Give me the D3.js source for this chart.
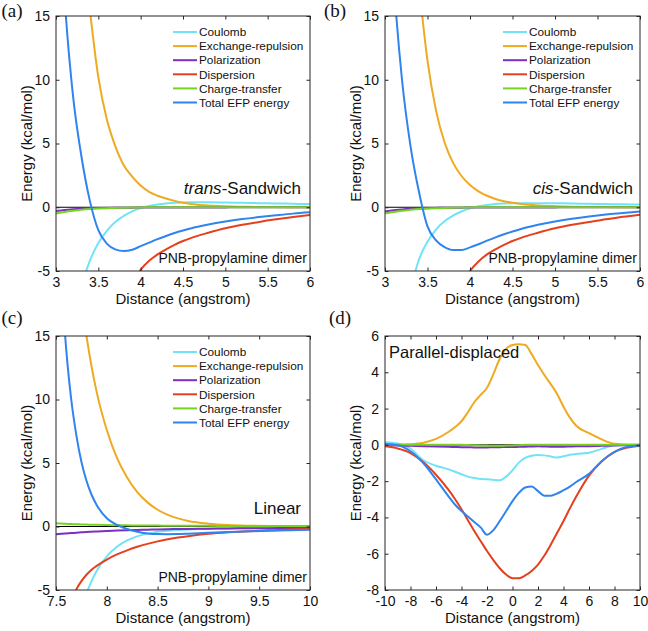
<!DOCTYPE html>
<html>
<head>
<meta charset="utf-8">
<script src="https://cdn.jsdelivr.net/npm/d3@7"></script>
<style>
  body { margin: 0; background: #fff; }
  text { font-family: "Liberation Sans", Arial, Helvetica, sans-serif; fill: #111; }
</style>
</head>
<body>
<script>
// series names + colours (same order in every panel)
const seriesNames = ['Coulomb', 'Exchange-repulsion', 'Polarization', 'Dispersion', 'Charge-transfer', 'Total EFP energy'];
const seriesColors = ['#70e4f7', '#eeaa22', '#7a30c0', '#e5401e', '#76d31f', '#2f84ee'];

// (a) trans-Sandwich
const distA = [3.0, 3.1, 3.2, 3.3, 3.4, 3.5, 3.6, 3.7, 3.8, 3.9, 4.0, 4.1, 4.2, 4.3, 4.4, 4.5, 4.6, 4.8, 5.0, 5.2, 5.4, 5.6, 5.8, 6.0];
const coulombA = [-20, -13, -9, -6.2, -4.2, -2.8, -1.85, -1.15, -0.68, -0.32, -0.07, 0.1, 0.22, 0.3, 0.35, 0.38, 0.39, 0.39, 0.37, 0.35, 0.32, 0.3, 0.27, 0.25];
const exchA = [60, 42, 30, 22, 15.5, 10.2, 6.9, 4.8, 3.3, 2.4, 1.7, 1.2, 0.9, 0.68, 0.5, 0.36, 0.26, 0.13, 0.07, 0.04, 0.02, 0.01, 0, 0];
const polA = [-0.3, -0.22, -0.16, -0.11, -0.08, -0.06, -0.05, -0.04, -0.03, -0.03, -0.02, -0.02, -0.02, -0.01, -0.01, -0.01, -0.01, -0.01, -0.01, 0, 0, 0, 0, 0];
const dispA = [-40, -30, -25, -19, -15, -12, -10, -8.5, -7.2, -6.0, -4.9, -4.2, -3.7, -3.3, -2.95, -2.65, -2.4, -2.0, -1.65, -1.38, -1.15, -0.95, -0.77, -0.6];
const ctA = [-0.5, -0.38, -0.28, -0.2, -0.14, -0.1, -0.07, -0.05, -0.03, -0.02, -0.01, 0, 0, 0, 0, 0, 0, 0, 0, 0, 0, 0, 0, 0];
const totalA = [28, 16.5, 8.8, 4.0, 0.5, -1.8, -2.85, -3.3, -3.43, -3.33, -3.05, -2.78, -2.5, -2.25, -2.02, -1.82, -1.64, -1.35, -1.12, -0.93, -0.77, -0.63, -0.5, -0.4];

// (b) cis-Sandwich
const distB = distA;
const coulombB = [-22, -14, -9.5, -6.5, -4.1, -2.7, -1.75, -1.1, -0.65, -0.33, -0.08, 0.08, 0.18, 0.25, 0.29, 0.31, 0.32, 0.32, 0.31, 0.29, 0.27, 0.25, 0.23, 0.21];
const exchB = [70, 48, 34, 25, 17.5, 11.5, 7.6, 5.1, 3.5, 2.45, 1.75, 1.25, 0.9, 0.65, 0.47, 0.35, 0.26, 0.14, 0.08, 0.04, 0.02, 0.01, 0, 0];
const polB = [-0.32, -0.24, -0.17, -0.12, -0.09, -0.07, -0.05, -0.04, -0.03, -0.03, -0.02, -0.02, -0.02, -0.01, -0.01, -0.01, -0.01, -0.01, -0.01, 0, 0, 0, 0, 0];
const dispB = [-40, -30, -25, -19, -15, -12, -10, -8.5, -7.3, -6.1, -5.0, -4.25, -3.7, -3.3, -2.95, -2.65, -2.4, -2.0, -1.65, -1.38, -1.15, -0.95, -0.75, -0.58];
const ctB = [-0.48, -0.37, -0.27, -0.2, -0.14, -0.1, -0.07, -0.05, -0.03, -0.02, -0.01, 0, 0, 0, 0, 0, 0, 0, 0, 0, 0, 0, 0, 0];
const totalB = [30, 18, 10, 4.8, 1.2, -1.5, -2.6, -3.12, -3.35, -3.35, -3.15, -2.9, -2.62, -2.36, -2.12, -1.9, -1.7, -1.38, -1.12, -0.9, -0.72, -0.57, -0.45, -0.33];

// (c) Linear
const distC = [7.5, 7.55, 7.6, 7.65, 7.7, 7.75, 7.8, 7.85, 7.9, 8.0, 8.1, 8.2, 8.3, 8.4, 8.5, 8.6, 8.7, 8.8, 9.0, 9.2, 9.4, 9.6, 9.8, 10.0];
const coulombC = [-25, -19, -14.5, -11, -8.5, -6.6, -5.3, -4.3, -3.5, -2.35, -1.6, -1.1, -0.78, -0.56, -0.42, -0.33, -0.27, -0.23, -0.18, -0.15, -0.13, -0.12, -0.11, -0.1];
const exchC = [45, 38, 32, 26, 21, 17.8, 15, 12.6, 10.6, 7.6, 5.4, 3.85, 2.7, 1.9, 1.32, 0.92, 0.64, 0.44, 0.22, 0.11, 0.06, 0.03, 0.02, 0.01];
const polC = [-0.62, -0.58, -0.55, -0.52, -0.49, -0.46, -0.43, -0.41, -0.39, -0.35, -0.32, -0.29, -0.27, -0.25, -0.23, -0.21, -0.2, -0.19, -0.17, -0.15, -0.14, -0.13, -0.12, -0.11];
const dispC = [-9, -7.8, -6.8, -5.8, -4.95, -4.3, -3.8, -3.4, -3.1, -2.6, -2.2, -1.88, -1.6, -1.37, -1.17, -1.0, -0.87, -0.76, -0.58, -0.46, -0.37, -0.3, -0.24, -0.2];
const ctC = [0.25, 0.23, 0.21, 0.19, 0.18, 0.16, 0.15, 0.14, 0.13, 0.11, 0.1, 0.09, 0.08, 0.07, 0.07, 0.06, 0.06, 0.05, 0.05, 0.04, 0.04, 0.04, 0.03, 0.03];
const totalC = [30, 20, 14, 10, 7.2, 5.1, 3.6, 2.5, 1.7, 0.65, 0.12, -0.2, -0.42, -0.55, -0.6, -0.61, -0.6, -0.57, -0.5, -0.44, -0.38, -0.33, -0.29, -0.25];

// (d) Parallel-displaced
const distD = [-10, -9, -8, -7, -6, -5, -4.5, -4, -3.5, -3, -2.5, -2, -1.5, -1, -0.5, 0, 0.5, 1, 1.5, 2, 2.5, 3, 3.5, 4, 4.5, 5, 6, 7, 8, 9, 10];
const coulombD = [0.15, 0.08, -0.2, -0.85, -1.15, -1.35, -1.48, -1.62, -1.75, -1.83, -1.88, -1.9, -1.93, -1.95, -1.75, -1.4, -0.98, -0.72, -0.6, -0.56, -0.58, -0.64, -0.7, -0.63, -0.55, -0.5, -0.44, -0.22, -0.02, 0, 0];
const exchD = [0, 0, 0.03, 0.12, 0.33, 0.72, 0.98, 1.3, 1.8, 2.35, 2.75, 3.15, 3.9, 4.75, 5.3, 5.5, 5.55, 5.5, 5.0, 4.4, 3.85, 3.35, 2.8, 2.1, 1.5, 1.05, 0.65, 0.3, 0.06, 0.01, 0];
const polD = [-0.02, -0.03, -0.05, -0.07, -0.09, -0.11, -0.12, -0.13, -0.13, -0.14, -0.14, -0.14, -0.13, -0.13, -0.12, -0.12, -0.11, -0.1, -0.09, -0.08, -0.09, -0.1, -0.1, -0.1, -0.09, -0.08, -0.07, -0.05, -0.03, -0.02, -0.01];
const dispD = [-0.08, -0.2, -0.45, -0.95, -1.65, -2.5, -3.0, -3.55, -4.15, -4.75, -5.3, -5.85, -6.35, -6.8, -7.15, -7.35, -7.35, -7.2, -6.95, -6.6, -6.1, -5.5, -4.85, -4.2, -3.5, -2.85, -1.7, -0.9, -0.4, -0.15, -0.06];
const ctD = [0.03, 0.02, 0.01, 0.01, 0.01, 0, 0, 0, -0.01, -0.02, -0.03, -0.04, -0.05, -0.05, -0.04, -0.03, -0.02, 0, 0.01, 0.01, 0.01, 0, 0, 0, 0, 0, 0, 0, 0, 0, 0];
const totalD = [0.05, -0.02, -0.35, -1.0, -1.9, -2.85, -3.3, -3.65, -3.95, -4.25, -4.55, -4.95, -4.7, -4.2, -3.65, -3.1, -2.65, -2.35, -2.3, -2.55, -2.8, -2.8, -2.68, -2.5, -2.3, -2.05, -1.6, -0.9, -0.38, -0.1, -0.03];

// axis ticks
const ticksXA = [3, 3.5, 4, 4.5, 5, 5.5, 6];
const ticksXC = [7.5, 8, 8.5, 9, 9.5, 10];
const ticksXD = [-10, -8, -6, -4, -2, 0, 2, 4, 6, 8, 10];
const ticksYABC = [-5, 0, 5, 10, 15];
const ticksYD = [-8, -6, -4, -2, 0, 2, 4, 6];

const W = 648, H = 631;
const svg = d3.select('body').append('svg').attr('width', W).attr('height', H);
const defs = svg.append('defs');

const panels = [
  { id: 'a', tag: '(a)', tagX: 1.5, tagY: 17, left: 56, right: 310, top: 16, bottom: 271,
    xDomain: [3, 6], yDomain: [-5, 15], xTicks: ticksXA, yTicks: ticksYABC, dist: distA,
    series: [coulombA, exchA, polA, dispA, ctA, totalA], legend: true,
    title: ['trans', '-Sandwich'], titleDx: -9, dimer: true },
  { id: 'b', tag: '(b)', tagX: 324, tagY: 17, left: 385, right: 640, top: 16, bottom: 271,
    xDomain: [3, 6], yDomain: [-5, 15], xTicks: ticksXA, yTicks: ticksYABC, dist: distB,
    series: [coulombB, exchB, polB, dispB, ctB, totalB], legend: true,
    title: ['cis', '-Sandwich'], titleDx: -7, dimer: true },
  { id: 'c', tag: '(c)', tagX: 1.5, tagY: 324, left: 56, right: 310, top: 336, bottom: 590,
    xDomain: [7.5, 10], yDomain: [-5, 15], xTicks: ticksXC, yTicks: ticksYABC, dist: distC,
    series: [coulombC, exchC, polC, dispC, ctC, totalC], legend: true,
    title: ['', 'Linear'], titleDx: -9, dimer: true },
  { id: 'd', tag: '(d)', tagX: 329, tagY: 324, left: 385, right: 640, top: 336, bottom: 590,
    xDomain: [-10, 10], yDomain: [-8, 6], xTicks: ticksXD, yTicks: ticksYD, dist: distD,
    series: [coulombD, exchD, polD, dispD, ctD, totalD], legend: false,
    title: null, dimer: false }
];

panels.forEach(p => {
  const x = d3.scaleLinear().domain(p.xDomain).range([p.left, p.right]);
  const y = d3.scaleLinear().domain(p.yDomain).range([p.bottom, p.top]);
  const g = svg.append('g');

  defs.append('clipPath').attr('id', 'clip-' + p.id)
    .append('rect')
    .attr('x', p.left).attr('y', p.top)
    .attr('width', p.right - p.left).attr('height', p.bottom - p.top);

  const plot = g.append('g').attr('clip-path', `url(#clip-${p.id})`);

  const line = d3.line()
    .x(d => x(d[0]))
    .y(d => y(d[1]))
    .curve(d3.curveMonotoneX);

  // zero line
  plot.append('line')
    .attr('x1', p.left).attr('x2', p.right)
    .attr('y1', y(0)).attr('y2', y(0))
    .attr('stroke', '#000').attr('stroke-width', 1.2);

  p.series.forEach((vals, i) => {
    plot.append('path')
      .datum(p.dist.map((d, j) => [d, vals[j]]))
      .attr('fill', 'none')
      .attr('stroke', seriesColors[i])
      .attr('stroke-width', 2)
      .attr('stroke-linejoin', 'round')
      .attr('d', line);
  });

  // axes, ticks pointing inward on all sides
  const tick = 3.5;
  const fmt = d => String(d);
  const xb = g.append('g').attr('transform', `translate(0,${p.bottom})`)
    .call(d3.axisBottom(x).tickValues(p.xTicks).tickSize(-tick).tickSizeOuter(0).tickPadding(6.5).tickFormat(fmt));
  const xt = g.append('g').attr('transform', `translate(0,${p.top})`)
    .call(d3.axisTop(x).tickValues(p.xTicks).tickSize(-tick).tickSizeOuter(0).tickFormat(''));
  const yl = g.append('g').attr('transform', `translate(${p.left},0)`)
    .call(d3.axisLeft(y).tickValues(p.yTicks).tickSize(-tick).tickSizeOuter(0).tickPadding(6).tickFormat(fmt));
  const yr = g.append('g').attr('transform', `translate(${p.right},0)`)
    .call(d3.axisRight(y).tickValues(p.yTicks).tickSize(-tick).tickSizeOuter(0).tickFormat(''));
  [xb, xt, yl, yr].forEach(a => {
    a.select('.domain').remove();
    a.selectAll('line').attr('stroke', '#262626');
    a.selectAll('text').style('font-size', '14px').attr('fill', '#111')
      .style('font-family', '"Liberation Sans", Arial, sans-serif');
  });

  // box
  g.append('rect')
    .attr('x', p.left).attr('y', p.top)
    .attr('width', p.right - p.left).attr('height', p.bottom - p.top)
    .attr('fill', 'none').attr('stroke', '#262626').attr('stroke-width', 1);

  // axis titles
  g.append('text')
    .attr('x', (p.left + p.right) / 2)
    .attr('y', p.bottom + 32.5)
    .attr('text-anchor', 'middle')
    .style('font-size', '15px')
    .text('Distance (angstrom)');

  g.append('text')
    .attr('transform', `translate(${p.left - 29},${(p.top + p.bottom) / 2}) rotate(-90)`)
    .attr('dy', '0.35em')
    .attr('text-anchor', 'middle')
    .style('font-size', '15px')
    .text('Energy (kcal/mol)');

  // panel tag
  g.append('text')
    .attr('x', p.tagX).attr('y', p.tagY)
    .style('font-family', '"Liberation Serif", "Times New Roman", serif')
    .style('font-size', '19px')
    .text(p.tag);

  // legend
  if (p.legend) {
    const lg = g.append('g').attr('transform', `translate(${p.right - 137},${p.top + 16})`);
    const items = lg.selectAll('g').data(seriesNames).enter().append('g')
      .attr('transform', (d, i) => `translate(0,${i * 14.1})`);
    items.append('line')
      .attr('x1', 0).attr('x2', 24)
      .attr('stroke', (d, i) => seriesColors[i]).attr('stroke-width', 2);
    items.append('text')
      .attr('x', 26).attr('dy', '0.36em')
      .style('font-size', '11.8px')
      .text(d => d);
  }

  if (p.title) {
    const t = g.append('text')
      .attr('x', p.right + p.titleDx).attr('y', p.top + 178)
      .attr('text-anchor', 'end')
      .style('font-size', '17px');
    t.append('tspan').style('font-style', 'italic').text(p.title[0]);
    t.append('tspan').text(p.title[1]);
  } else {
    g.append('text')
      .attr('x', p.left + 4).attr('y', p.top + 22)
      .style('font-size', '16.5px')
      .text('Parallel-displaced');
  }

  if (p.dimer) {
    g.append('text')
      .attr('x', p.right - 3).attr('y', p.bottom - 8)
      .attr('text-anchor', 'end')
      .style('font-size', '14px')
      .text('PNB-propylamine dimer');
  }
});
</script>
</body>
</html>
